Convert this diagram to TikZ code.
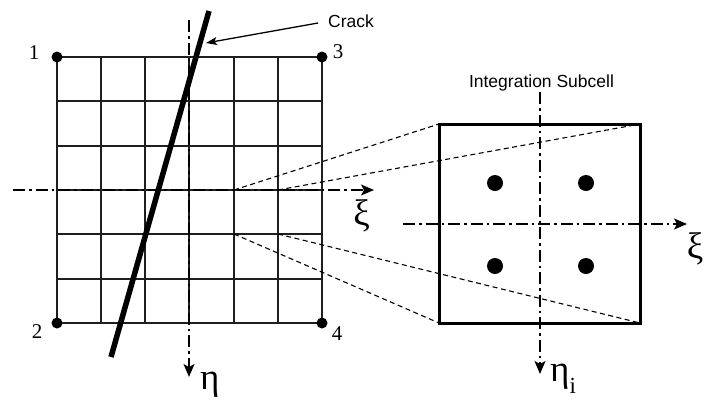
\documentclass[tikz,border=0pt]{standalone}
\usepackage{fontspec}
\setmainfont{Liberation Serif}
\newfontfamily\hvfont{Liberation Sans}
\usetikzlibrary{arrows.meta}
\begin{document}
\begin{tikzpicture}[x=1pt,y=-1pt,
  gridline/.style={line width=1.8pt, draw=black!88},
  axisline/.style={line width=1.2pt, dash pattern=on 12pt off 4pt on 2.5pt off 4pt,
    -{Stealth[length=13pt,width=11pt,inset=3pt]}},
  zoomline/.style={line width=1.1pt, dash pattern=on 5pt off 3.5pt},
  crackline/.style={line width=5.5pt},
  corner/.style={circle, fill=black, inner sep=0pt, minimum size=11pt},
  gauss/.style={circle, fill=black, inner sep=0pt, minimum size=16pt},
  numlabel/.style={font=\fontsize{21}{21}\selectfont, inner sep=0pt},
  greek/.style={font=\fontsize{37}{37}\selectfont, inner sep=0pt},
  sans/.style={font=\hvfont\fontsize{17.5}{17.5}\selectfont, inner sep=0pt}]
\useasboundingbox (0,0) rectangle (704,400);

% mesh
\foreach \x in {57,101,145,189,234,278,322} {
  \draw[gridline] (\x,57) -- (\x,323);
}
\foreach \y in {57,101,146,190,234,279,323} {
  \draw[gridline] (57,\y) -- (322,\y);
}

% axes of the element
\coordinate (axl) at (13,190);
\coordinate (axr) at (374,190);
\coordinate (axt) at (189,20);
\coordinate (axb) at (189,377);
\draw[axisline] (axl) -- (axr);
\draw[axisline] (axt) -- (axb);

% corner nodes
\node[corner] (n1) at (57,57) {};
\node[corner] (n3) at (322,57) {};
\node[corner] (n2) at (57,323) {};
\node[corner] (n4) at (322,323) {};
\node[numlabel] (l1) at (34,53) {1};
\node[numlabel] (l3) at (338,52) {3};
\node[numlabel] (l2) at (37,332) {2};
\node[numlabel] (l4) at (337,334) {4};

% crack
\coordinate (ck1) at (209,11);
\coordinate (ck2) at (111,357);
\draw[crackline] (ck1) -- (ck2);
\node[sans, anchor=base west] (cracklbl) at (328,27) {Crack};
\coordinate (arrstart) at (318,23);
\coordinate (cracktip) at (206,43);
\draw[line width=1.3pt, -{Stealth[length=11pt,width=8pt,inset=2.5pt]}] (arrstart) -- (cracktip);

% axis labels left
\node[greek] (xi1) at (361.5,216) {ξ};
\node[greek, anchor=base west] (eta1) at (200,389) {η};

% subcell (selected cell) corners
\coordinate (s1) at (234,190);
\coordinate (s2) at (278,190);
\coordinate (s3) at (234,234);
\coordinate (s4) at (278,234);

% integration subcell
\coordinate (q1) at (439,124);
\coordinate (q2) at (640,124);
\coordinate (q3) at (439,323);
\coordinate (q4) at (640,323);
\draw[line width=3pt] (q1) rectangle (q4);

\draw[zoomline] (s1) -- (q1);
\draw[zoomline] (s2) -- (q2);
\draw[zoomline] (s3) -- (q3);
\draw[zoomline] (s4) -- (q4);

\coordinate (bxl) at (403,224);
\coordinate (bxr) at (687,224);
\coordinate (bxt) at (540,92);
\coordinate (bxb) at (540,374);
\draw[axisline] (bxl) -- (bxr);
\draw[axisline] (bxt) -- (bxb);

\node[gauss] (g1) at (495,183) {};
\node[gauss] (g2) at (586,183) {};
\node[gauss] (g3) at (495,266) {};
\node[gauss] (g4) at (586,266) {};

\node[sans, anchor=base] (subcell) at (541.5,87) {Integration Subcell};
\node[greek] (xi2) at (695,249) {ξ};
\node[greek, anchor=base west] (eta2) at (550,381) {η{\fontsize{23}{23}\selectfont\raisebox{-12pt}{i}}};
\end{tikzpicture}
\end{document}
